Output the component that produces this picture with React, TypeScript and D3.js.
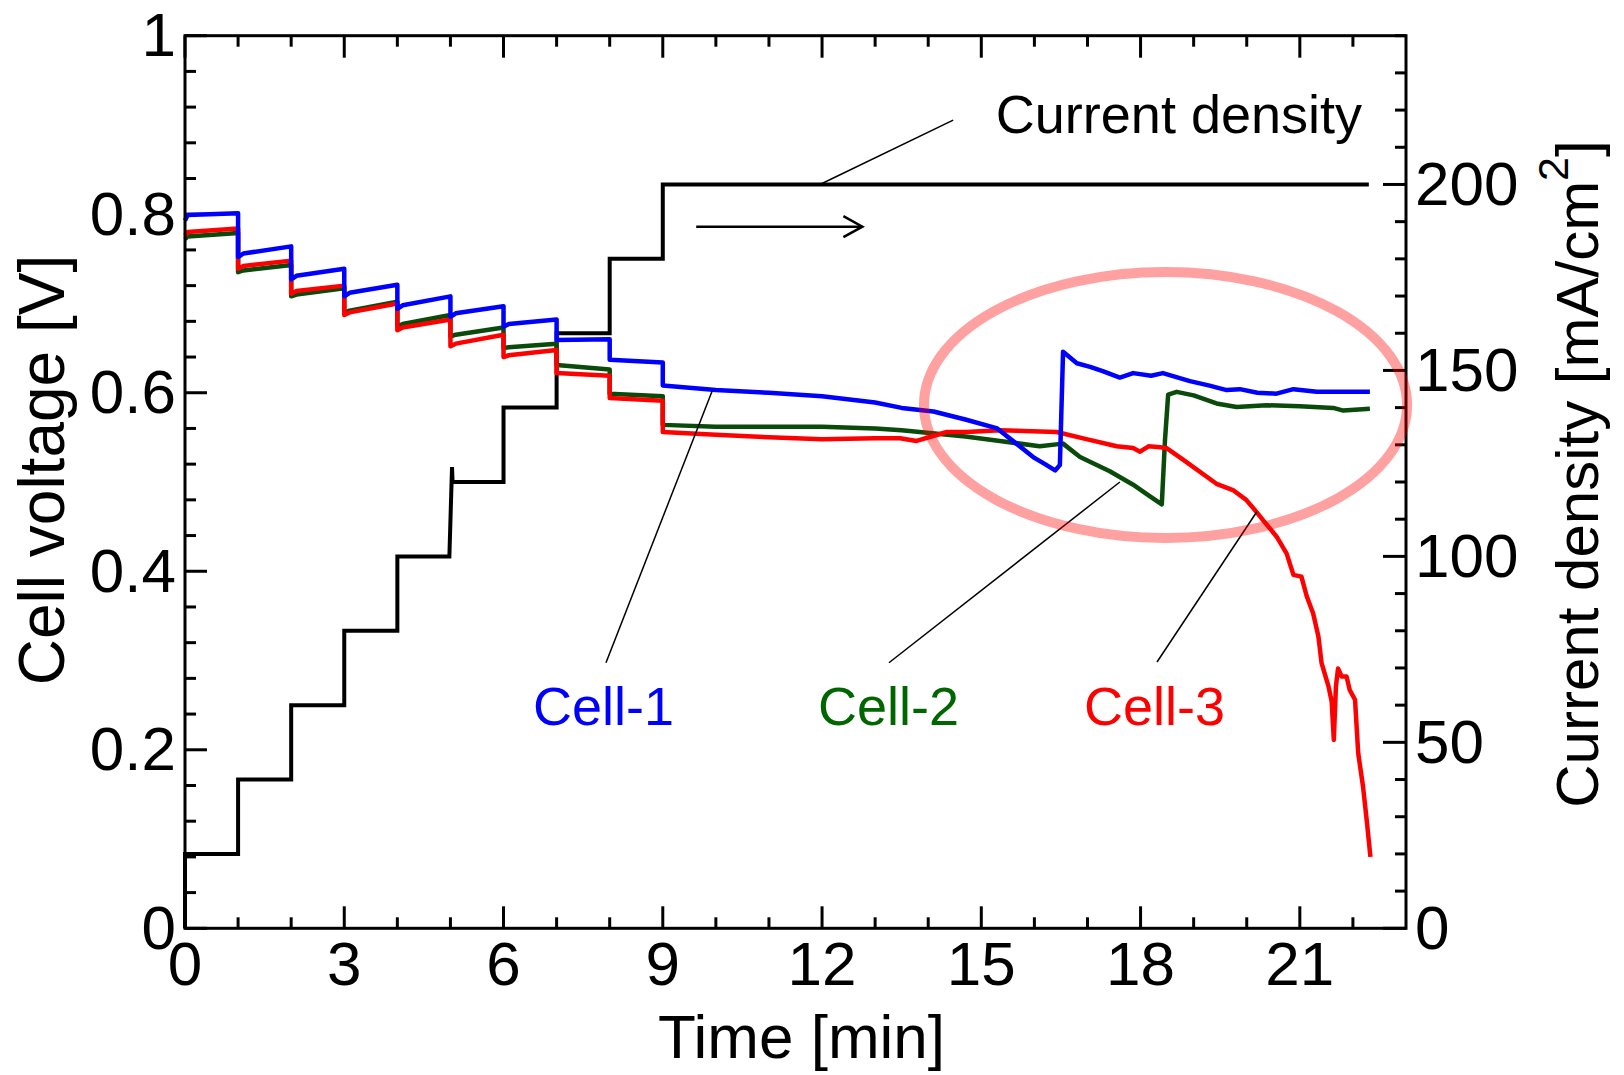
import * as d3 from "d3";

// current density steps [min, mA/cm2]
const currentPts: [number, number][] = [
  [0, 0], [0, 20], [1, 20], [1, 40], [2, 40], [2, 60], [3, 60], [3, 80],
  [4, 80], [4, 100], [4.98, 100], [5.03, 124], [5.04, 120], [6, 120],
  [6, 140], [7, 140], [7, 160], [8, 160], [8, 180], [9, 180], [9, 200], [22.3, 200],
];

// cell voltages [min, V]
const cell1: [number, number][] = [
  [0, 0.793], [0.05, 0.799], [1, 0.801],
  [1, 0.752], [1.1, 0.756], [2, 0.764],
  [2, 0.727], [2.1, 0.731], [3, 0.739],
  [3, 0.708], [3.1, 0.712], [4, 0.721],
  [4, 0.694], [4.1, 0.698], [5, 0.708],
  [5, 0.685], [5.1, 0.689], [6, 0.697],
  [6, 0.674], [6.1, 0.677], [7, 0.682],
  [7, 0.659], [8, 0.66],
  [8, 0.637], [9, 0.634],
  [9, 0.608], [10, 0.603], [11, 0.6], [12, 0.596], [13, 0.589], [13.5, 0.583],
  [14.1, 0.579], [14.7, 0.57], [15.3, 0.56], [15.66, 0.543], [16, 0.527], [16.2, 0.52],
  [16.39, 0.513], [16.48, 0.519], [16.54, 0.646], [16.8, 0.633], [17.05, 0.629],
  [17.3, 0.624], [17.61, 0.617], [17.86, 0.622], [18.2, 0.619], [18.42, 0.622],
  [18.93, 0.613], [19.3, 0.608], [19.62, 0.603], [19.87, 0.604], [20.2, 0.6],
  [20.56, 0.599], [20.88, 0.604], [21.32, 0.601], [21.8, 0.601], [22.32, 0.601],
];

const cell2: [number, number][] = [
  [0, 0.772], [0.05, 0.775], [1, 0.779],
  [1, 0.735], [1.1, 0.737], [2, 0.743],
  [2, 0.708], [2.1, 0.71], [3, 0.717],
  [3, 0.689], [3.1, 0.692], [4, 0.702],
  [4, 0.674], [4.1, 0.677], [5, 0.687],
  [5, 0.663], [5.1, 0.665], [6, 0.673],
  [6, 0.65], [6.1, 0.651], [7, 0.655],
  [7, 0.631], [8, 0.626],
  [8, 0.599], [9, 0.596],
  [9, 0.564], [10, 0.562], [11, 0.562], [12, 0.562], [13, 0.56], [13.5, 0.558],
  [14.7, 0.551], [15.35, 0.546], [16.1, 0.54], [16.54, 0.543], [16.86, 0.528],
  [17.42, 0.512], [17.86, 0.497], [18.15, 0.485], [18.4, 0.475], [18.46, 0.547],
  [18.52, 0.598], [18.68, 0.601], [19.0, 0.597], [19.43, 0.588], [19.81, 0.584],
  [20.37, 0.586], [21.0, 0.585], [21.63, 0.583], [21.82, 0.58], [22.32, 0.582],
];

const cell3: [number, number][] = [
  [0, 0.776], [0.05, 0.78], [1, 0.784],
  [1, 0.739], [1.1, 0.742], [2, 0.748],
  [2, 0.711], [2.1, 0.714], [3, 0.72],
  [3, 0.687], [3.1, 0.69], [4, 0.7],
  [4, 0.67], [4.1, 0.673], [5, 0.682],
  [5, 0.652], [5.1, 0.655], [6, 0.665],
  [6, 0.64], [6.1, 0.642], [7, 0.648],
  [7, 0.622], [8, 0.619],
  [8, 0.594], [9, 0.591],
  [9, 0.556], [10, 0.553], [11, 0.55], [12, 0.548], [13, 0.549], [13.47, 0.549],
  [13.78, 0.546], [14.35, 0.556], [14.72, 0.556], [15.35, 0.558], [16.42, 0.556],
  [16.98, 0.548], [17.55, 0.54], [17.86, 0.538], [17.99, 0.534], [18.15, 0.54],
  [18.37, 0.539], [18.49, 0.538], [18.8, 0.525], [19.43, 0.498], [19.74, 0.491],
  [19.99, 0.48], [20.19, 0.466], [20.31, 0.457], [20.56, 0.439], [20.75, 0.42],
  [20.88, 0.396], [21.03, 0.394], [21.13, 0.372], [21.25, 0.353], [21.35, 0.327],
  [21.41, 0.297], [21.54, 0.271], [21.6, 0.254], [21.64, 0.211], [21.68, 0.271],
  [21.72, 0.291], [21.79, 0.282], [21.88, 0.282], [21.94, 0.267], [22.04, 0.256],
  [22.1, 0.196], [22.19, 0.159], [22.26, 0.121], [22.33, 0.08],
];

const xTickLabels = [0, 3, 6, 9, 12, 15, 18, 21];
const vTickLabels = [0, 0.2, 0.4, 0.6, 0.8, 1];
const iTickLabels = [0, 50, 100, 150, 200];

const W = 1624;
const H = 1075;
const FONT = "'Liberation Sans', Arial, sans-serif";

export default function App() {
  const x = d3.scaleLinear().domain([0, 23]).range([185, 1406]);
  const yV = d3.scaleLinear().domain([0, 1]).range([928.3, 35.7]);
  const yI = d3.scaleLinear().domain([0, 240]).range([928.3, 35.7]);

  const lineV = d3.line<[number, number]>().x((d) => x(d[0])).y((d) => yV(d[1]));
  const lineI = d3.line<[number, number]>().x((d) => x(d[0])).y((d) => yI(d[1]));

  const [x0, x1] = x.range();
  const [yb, yt] = yV.range();

  const xMinor = d3.range(0, 23, 1);
  const vMinor = d3.range(0, 1.0001, 0.04);
  const iMinor = d3.range(0, 241, 10);

  // arrow under the current-density label
  const ax0 = x(9.63), ax1 = x(12.76), ay = yV(0.786);

  // highlight ellipse (data coords)
  const ecx = x(18.47), ecy = yV(0.5863);
  const erx = x(18.47 + 4.55) - ecx, ery = yV(0.5863 - 0.149) - ecy;

  return (
    <svg width={W} height={H} style={{ position: "absolute", left: 0, top: 0, background: "#fff" }} fontFamily={FONT}>
      {/* ticks */}
      <g stroke="#000" strokeWidth={3}>
        {xMinor.map((t) => {
          const len = t % 3 === 0 ? 22 : 11;
          return (
            <g key={"x" + t}>
              <line x1={x(t)} x2={x(t)} y1={yb} y2={yb - len} />
              <line x1={x(t)} x2={x(t)} y1={yt} y2={yt + len} />
            </g>
          );
        })}
        {vMinor.map((v, i) => {
          const len = i % 5 === 0 ? 22 : 11;
          return <line key={"v" + i} x1={x0} x2={x0 + len} y1={yV(v)} y2={yV(v)} />;
        })}
        {iMinor.map((v) => {
          const len = v % 50 === 0 ? 23 : 11;
          return <line key={"i" + v} x1={x1} x2={x1 - len} y1={yI(v)} y2={yI(v)} />;
        })}
      </g>

      {/* current density */}
      <path d={lineI(currentPts) ?? ""} fill="none" stroke="#000" strokeWidth={4} />

      {/* cells */}
      <path d={lineV(cell2) ?? ""} fill="none" stroke="#0a4a0a" strokeWidth={4.5} strokeLinejoin="round" />
      <path d={lineV(cell3) ?? ""} fill="none" stroke="#ff0000" strokeWidth={4.5} strokeLinejoin="round" />
      <path d={lineV(cell1) ?? ""} fill="none" stroke="#0000ff" strokeWidth={4.5} strokeLinejoin="round" />

      {/* frame */}
      <rect x={x0} y={yt} width={x1 - x0} height={yb - yt} fill="none" stroke="#000" strokeWidth={3} />

      {/* leader lines */}
      <g stroke="#000" strokeWidth={1.5}>
        <line x1={x(14.47)} y1={yI(217.3)} x2={x(11.96)} y2={yI(200)} />
        <line x1={x(7.93)} y1={yV(0.2975)} x2={x(9.93)} y2={yV(0.602)} />
        <line x1={x(13.26)} y1={yV(0.2975)} x2={x(17.61)} y2={yV(0.5)} />
        <line x1={x(18.31)} y1={yV(0.2983)} x2={x(20.19)} y2={yV(0.4667)} />
      </g>
      <g stroke="#000" strokeWidth={2.5} fill="none">
        <line x1={ax0} y1={ay} x2={ax1} y2={ay} />
        <polyline points={`${ax1 - 19},${ay - 10.5} ${ax1},${ay} ${ax1 - 19},${ay + 10.5}`} />
      </g>

      {/* highlight */}
      <ellipse cx={ecx} cy={ecy} rx={erx} ry={ery} fill="none" stroke="rgba(255,0,0,0.37)" strokeWidth={10} />

      {/* tick labels */}
      <g fontSize={62} fill="#000">
        {xTickLabels.map((t) => (
          <text key={"xl" + t} x={x(t)} y={985} textAnchor="middle">{t}</text>
        ))}
        {vTickLabels.map((v) => (
          <text key={"vl" + v} x={x0 - 9} y={yV(v)} dy="0.33em" textAnchor="end">{v}</text>
        ))}
        {iTickLabels.map((v) => (
          <text key={"il" + v} x={x1 + 9} y={yI(v)} dy="0.33em" textAnchor="start">{v}</text>
        ))}
      </g>

      {/* axis titles */}
      <g fill="#000">
        <text fontSize={62} x={(x0 + x1) / 2 + 6} y={1058} textAnchor="middle">Time [min]</text>
        <text fontSize={64} transform="translate(64,470) rotate(-90)" textAnchor="middle">Cell voltage [V]</text>
        <text fontSize={60} transform="translate(1598,474) rotate(-90)" textAnchor="middle">
          <tspan>Current density [mA/cm</tspan>
          <tspan fontSize={43} dy={-30}>2</tspan>
          <tspan dy={30}>]</tspan>
        </text>
      </g>

      {/* annotations */}
      <g fontSize={54}>
        <text x={1362} y={133} textAnchor="end" fill="#000">Current density</text>
        <text x={533} y={725} fill="#0000ff">Cell-1</text>
        <text x={818} y={725} fill="#006600">Cell-2</text>
        <text x={1084} y={725} fill="#ff0000">Cell-3</text>
      </g>
    </svg>
  );
}
